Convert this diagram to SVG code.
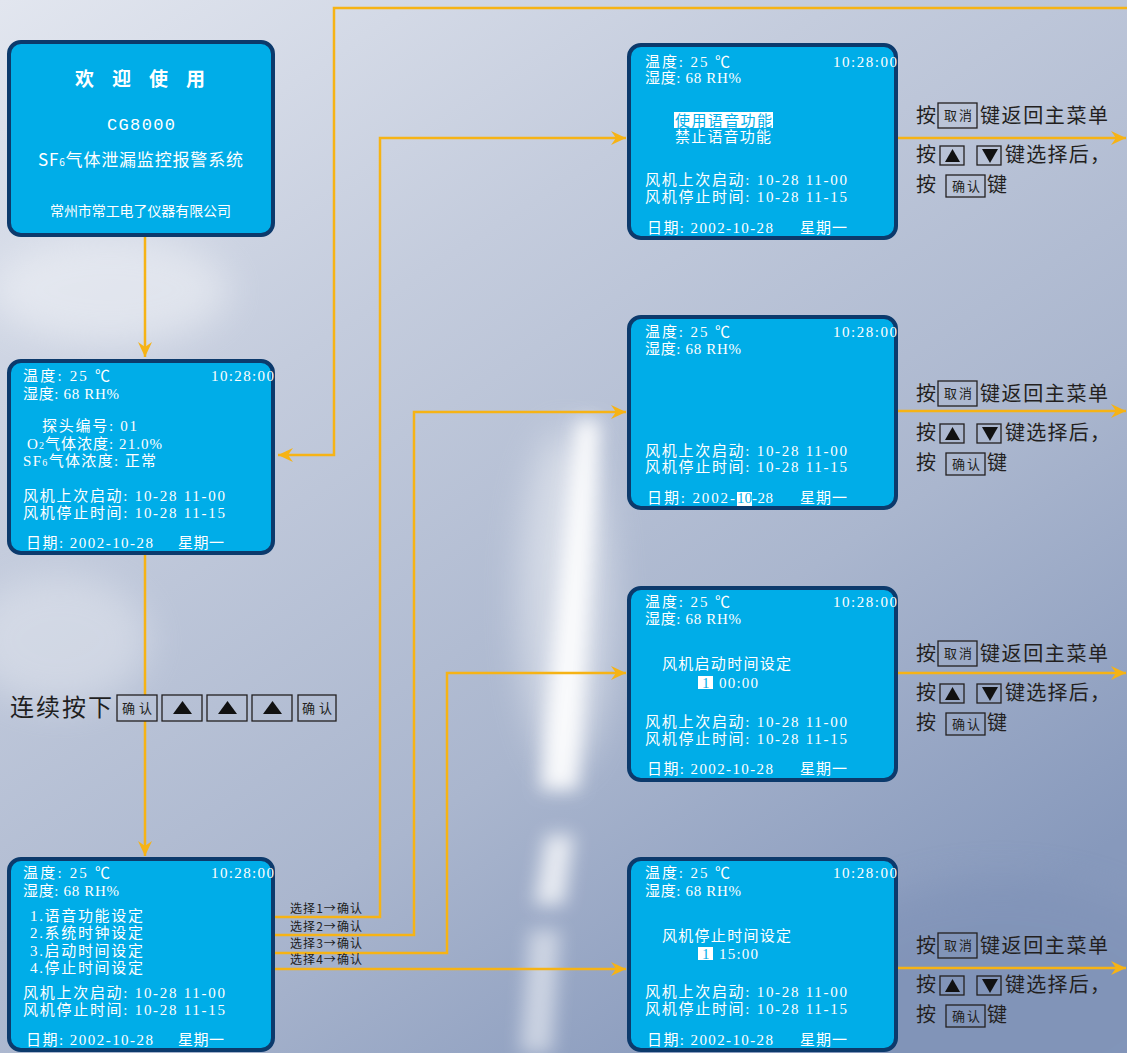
<svg xmlns="http://www.w3.org/2000/svg" width="1127" height="1053" viewBox="0 0 1127 1053">
<defs>
<linearGradient id="bg" x1="0" y1="0" x2="0.7" y2="1">
<stop offset="0" stop-color="#e2e6ef"/>
<stop offset="0.35" stop-color="#c4ccdd"/>
<stop offset="0.7" stop-color="#aab6ce"/>
<stop offset="1" stop-color="#8799bc"/>
</linearGradient>
<filter id="blur" x="-50%" y="-50%" width="200%" height="200%"><feGaussianBlur stdDeviation="18"/></filter>
<filter id="blur2" x="-50%" y="-50%" width="200%" height="200%"><feGaussianBlur stdDeviation="9"/></filter>
<marker id="arr" markerUnits="userSpaceOnUse" markerWidth="16" markerHeight="14" refX="15" refY="7" orient="auto">
<path d="M0,0 L15,7 L0,14 L5,7 Z" fill="#f6b315"/>
</marker>
<style>
.box{fill:#00ade8;stroke:#0c3a6c;stroke-width:4}
.lcd{font-family:"Liberation Serif","Noto Sans CJK SC",serif;font-size:15px;fill:#ffffff}
.hl{fill:#00ade8}
.hlr{fill:#ffffff}
.conn{fill:none;stroke:#f6b315;stroke-width:2.5}
.lbl{font-family:"Noto Sans CJK SC",sans-serif;font-size:12px;fill:#1c1c1c}
.kt{font-family:"Noto Sans CJK SC",sans-serif;font-size:20px;fill:#231f20}
.kb{fill:none;stroke:#231f20;stroke-width:1.3}
.ks{font-family:"Noto Sans CJK SC",sans-serif;font-size:13px;fill:#231f20}
.tri{fill:#111111}
</style>
</defs>

<g id="background">
<rect x="0" y="0" width="1127" height="1053" fill="url(#bg)"/>
<ellipse cx="110" cy="290" rx="120" ry="55" fill="#ffffff" opacity="0.4" filter="url(#blur)"/>
<ellipse cx="60" cy="640" rx="90" ry="65" fill="#ffffff" opacity="0.3" filter="url(#blur)"/>
<ellipse cx="1000" cy="1000" rx="200" ry="120" fill="#7d90b6" opacity="0.5" filter="url(#blur)"/>
<ellipse cx="565" cy="600" rx="45" ry="170" fill="#ffffff" opacity="0.45" filter="url(#blur)"/>
<polygon points="576,420 600,420 578,790 540,790" fill="#ffffff" opacity="0.9" filter="url(#blur2)"/>
<polygon points="546,835 574,835 564,905 534,905" fill="#ffffff" opacity="0.75" filter="url(#blur2)"/>
<polygon points="530,930 560,930 552,1053 520,1053" fill="#ffffff" opacity="0.5" filter="url(#blur2)"/>
</g>

<g id="connectors">
<line class="conn" x1="145" y1="237" x2="145" y2="357" marker-end="url(#arr)"/>
<line class="conn" x1="145" y1="555" x2="145" y2="695"/>
<line class="conn" x1="145" y1="721" x2="145" y2="856" marker-end="url(#arr)"/>
<path class="conn" d="M143,917 H380 V138 H626" marker-end="url(#arr)"/>
<path class="conn" d="M143,935 H414 V412 H626" marker-end="url(#arr)"/>
<path class="conn" d="M143,953 H447 V673 H626" marker-end="url(#arr)"/>
<path class="conn" d="M143,969 H626" marker-end="url(#arr)"/>
<path class="conn" d="M1127,8 H334 V455 H278" marker-end="url(#arr)"/>
<line class="conn" x1="898" y1="138" x2="1126" y2="138" marker-end="url(#arr)"/>
<line class="conn" x1="898" y1="411" x2="1126" y2="411" marker-end="url(#arr)"/>
<line class="conn" x1="898" y1="673" x2="1126" y2="673" marker-end="url(#arr)"/>
<line class="conn" x1="898" y1="968" x2="1126" y2="968" marker-end="url(#arr)"/>
<text class="lbl" x="290" y="913" textLength="72">选择1→确认</text>
<text class="lbl" x="290" y="931" textLength="72">选择2→确认</text>
<text class="lbl" x="290" y="948" textLength="72">选择3→确认</text>
<text class="lbl" x="290" y="964" textLength="72">选择4→确认</text>
</g>

<g id="welcome">
<rect class="box" x="9" y="42" width="264" height="193" rx="12"/>
<text x="75" y="86" textLength="130" font-family="'Noto Sans CJK SC',sans-serif" font-size="19" font-weight="bold" fill="#ffffff">欢迎使用</text>
<text x="107" y="130" textLength="68" font-family="'Liberation Mono',monospace" font-size="17" fill="#ffffff">CG8000</text>
<text x="38" y="166" textLength="205" font-family="'Noto Sans CJK SC',sans-serif" font-size="17" fill="#ffffff">SF<tspan font-size="10">6</tspan>气体泄漏监控报警系统</text>
<text x="50" y="216" textLength="181" font-family="'Noto Sans CJK SC',sans-serif" font-size="14" fill="#ffffff">常州市常工电了仪器有限公司</text>
</g>

<g id="main-screen">
<rect class="box" x="9" y="361" width="264" height="192" rx="12"/>
<text class="lcd" x="23" y="381" textLength="87">温度: 25 ℃</text>
<text class="lcd" x="23" y="399" textLength="96">湿度: 68 RH%</text>
<text class="lcd" x="211" y="381" textLength="63">10:28:00</text>
<text class="lcd" x="42" y="431" textLength="95">探头编号: 01</text>
<text class="lcd" x="27" y="449" textLength="135">O<tspan font-size="10">2</tspan>气体浓度: 21.0%</text>
<text class="lcd" x="23" y="466" textLength="133">SF<tspan font-size="10">6</tspan>气体浓度: 正常</text>
<text class="lcd" x="23" y="501" textLength="202">风机上次启动: 10-28 11-00</text>
<text class="lcd" x="23" y="518" textLength="202">风机停止时间: 10-28 11-15</text>
<text class="lcd" x="26" y="548" textLength="127">日期: 2002-10-28</text>
<text class="lcd" x="178" y="548" textLength="46">星期一</text>
</g>

<g id="key-sequence">
<text x="10" y="716" textLength="102" font-family="'Noto Sans CJK SC',sans-serif" font-size="24" fill="#1f1f1f">连续按下</text>
<rect class="kb" x="117" y="695" width="40" height="26"/>
<text class="ks" x="122" y="713" textLength="30">确认</text>
<rect class="kb" x="162" y="695" width="40" height="26"/>
<polygon class="tri" points="173,714 192,714 182.5,701"/>
<rect class="kb" x="207" y="695" width="40" height="26"/>
<polygon class="tri" points="218,714 237,714 227.5,701"/>
<rect class="kb" x="252" y="695" width="40" height="26"/>
<polygon class="tri" points="263,714 282,714 272.5,701"/>
<rect class="kb" x="298" y="695" width="38" height="26"/>
<text class="ks" x="302" y="713" textLength="30">确认</text>
</g>

<g id="menu-screen">
<rect class="box" x="9" y="859" width="264" height="191" rx="12"/>
<text class="lcd" x="23" y="878" textLength="87">温度: 25 ℃</text>
<text class="lcd" x="23" y="896" textLength="96">湿度: 68 RH%</text>
<text class="lcd" x="211" y="878" textLength="63">10:28:00</text>
<text class="lcd" x="30" y="921" textLength="113">1.语音功能设定</text>
<text class="lcd" x="30" y="938" textLength="113">2.系统时钟设定</text>
<text class="lcd" x="30" y="956" textLength="113">3.启动时间设定</text>
<text class="lcd" x="30" y="973" textLength="113">4.停止时间设定</text>
<text class="lcd" x="23" y="998" textLength="202">风机上次启动: 10-28 11-00</text>
<text class="lcd" x="23" y="1015" textLength="202">风机停止时间: 10-28 11-15</text>
<text class="lcd" x="26" y="1045" textLength="127">日期: 2002-10-28</text>
<text class="lcd" x="178" y="1045" textLength="46">星期一</text>
</g>

<g id="voice-screen">
<rect class="box" x="629" y="45" width="267" height="193" rx="12"/>
<text class="lcd" x="645" y="67" textLength="85">温度: 25 ℃</text>
<text class="lcd" x="645" y="83" textLength="96">湿度: 68 RH%</text>
<text class="lcd" x="833" y="67" textLength="64">10:28:00</text>
<rect class="hlr" x="674" y="112" width="99" height="16"/>
<text class="lcd hl" x="675" y="126" textLength="97">使用语音功能</text>
<text class="lcd" x="675" y="142" textLength="96">禁止语音功能</text>
<text class="lcd" x="645" y="185" textLength="202">风机上次启动: 10-28 11-00</text>
<text class="lcd" x="645" y="202" textLength="202">风机停止时间: 10-28 11-15</text>
<text class="lcd" x="647" y="233" textLength="126">日期: 2002-10-28</text>
<text class="lcd" x="800" y="233" textLength="47">星期一</text>
</g>

<g id="clock-screen">
<rect class="box" x="629" y="317" width="267" height="191" rx="12"/>
<text class="lcd" x="645" y="337" textLength="85">温度: 25 ℃</text>
<text class="lcd" x="645" y="354" textLength="96">湿度: 68 RH%</text>
<text class="lcd" x="833" y="337" textLength="64">10:28:00</text>
<text class="lcd" x="645" y="456" textLength="202">风机上次启动: 10-28 11-00</text>
<text class="lcd" x="645" y="472" textLength="202">风机停止时间: 10-28 11-15</text>
<text class="lcd" x="647" y="503" textLength="88">日期: 2002-</text>
<rect class="hlr" x="737" y="492" width="15" height="14"/>
<text class="lcd hl" x="737" y="503" textLength="15">10</text>
<text class="lcd" x="752" y="503" textLength="21">-28</text>
<text class="lcd" x="800" y="503" textLength="47">星期一</text>
</g>

<g id="start-screen">
<rect class="box" x="629" y="588" width="267" height="192" rx="12"/>
<text class="lcd" x="645" y="607" textLength="85">温度: 25 ℃</text>
<text class="lcd" x="645" y="624" textLength="96">湿度: 68 RH%</text>
<text class="lcd" x="833" y="607" textLength="64">10:28:00</text>
<text class="lcd" x="662" y="669" textLength="129">风机启动时间设定</text>
<rect class="hlr" x="698" y="676" width="15" height="13"/>
<text class="lcd hl" x="702" y="688">1</text>
<text class="lcd" x="719" y="688" textLength="39">00:00</text>
<text class="lcd" x="645" y="727" textLength="202">风机上次启动: 10-28 11-00</text>
<text class="lcd" x="645" y="744" textLength="202">风机停止时间: 10-28 11-15</text>
<text class="lcd" x="647" y="774" textLength="126">日期: 2002-10-28</text>
<text class="lcd" x="800" y="774" textLength="47">星期一</text>
</g>

<g id="stop-screen">
<rect class="box" x="629" y="859" width="267" height="191" rx="12"/>
<text class="lcd" x="645" y="878" textLength="85">温度: 25 ℃</text>
<text class="lcd" x="645" y="896" textLength="96">湿度: 68 RH%</text>
<text class="lcd" x="833" y="878" textLength="64">10:28:00</text>
<text class="lcd" x="662" y="941" textLength="129">风机停止时间设定</text>
<rect class="hlr" x="698" y="947" width="15" height="13"/>
<text class="lcd hl" x="702" y="959">1</text>
<text class="lcd" x="719" y="959" textLength="39">15:00</text>
<text class="lcd" x="645" y="997" textLength="202">风机上次启动: 10-28 11-00</text>
<text class="lcd" x="645" y="1014" textLength="202">风机停止时间: 10-28 11-15</text>
<text class="lcd" x="647" y="1045" textLength="126">日期: 2002-10-28</text>
<text class="lcd" x="800" y="1045" textLength="47">星期一</text>
</g>

<g id="keys-1">
<text class="kt" x="916" y="123">按</text>
<rect class="kb" x="938" y="103" width="39" height="25"/>
<text class="ks" x="944" y="120" textLength="28">取消</text>
<text class="kt" x="980" y="123" textLength="128">键返回主菜单</text>
<text class="kt" x="916" y="162">按</text>
<rect class="kb" x="940" y="146" width="24" height="19"/>
<polygon class="tri" points="945,162 960,162 952.5,149"/>
<rect class="kb" x="977" y="146" width="24" height="19"/>
<polygon class="tri" points="982,149 998,149 990,163"/>
<text class="kt" x="1005" y="162" textLength="105">键选择后，</text>
<text class="kt" x="916" y="192">按</text>
<rect class="kb" x="946" y="175" width="39" height="22"/>
<text class="ks" x="952" y="191" textLength="28">确认</text>
<text class="kt" x="987" y="192">键</text>
</g>

<g id="keys-2" transform="translate(0,278)">
<text class="kt" x="916" y="123">按</text>
<rect class="kb" x="938" y="103" width="39" height="25"/>
<text class="ks" x="944" y="120" textLength="28">取消</text>
<text class="kt" x="980" y="123" textLength="128">键返回主菜单</text>
<text class="kt" x="916" y="162">按</text>
<rect class="kb" x="940" y="146" width="24" height="19"/>
<polygon class="tri" points="945,162 960,162 952.5,149"/>
<rect class="kb" x="977" y="146" width="24" height="19"/>
<polygon class="tri" points="982,149 998,149 990,163"/>
<text class="kt" x="1005" y="162" textLength="105">键选择后，</text>
<text class="kt" x="916" y="192">按</text>
<rect class="kb" x="946" y="175" width="39" height="22"/>
<text class="ks" x="952" y="191" textLength="28">确认</text>
<text class="kt" x="987" y="192">键</text>
</g>

<g id="keys-3" transform="translate(0,538)">
<text class="kt" x="916" y="123">按</text>
<rect class="kb" x="938" y="103" width="39" height="25"/>
<text class="ks" x="944" y="120" textLength="28">取消</text>
<text class="kt" x="980" y="123" textLength="128">键返回主菜单</text>
<text class="kt" x="916" y="162">按</text>
<rect class="kb" x="940" y="146" width="24" height="19"/>
<polygon class="tri" points="945,162 960,162 952.5,149"/>
<rect class="kb" x="977" y="146" width="24" height="19"/>
<polygon class="tri" points="982,149 998,149 990,163"/>
<text class="kt" x="1005" y="162" textLength="105">键选择后，</text>
<text class="kt" x="916" y="192">按</text>
<rect class="kb" x="946" y="175" width="39" height="22"/>
<text class="ks" x="952" y="191" textLength="28">确认</text>
<text class="kt" x="987" y="192">键</text>
</g>

<g id="keys-4" transform="translate(0,830)">
<text class="kt" x="916" y="123">按</text>
<rect class="kb" x="938" y="103" width="39" height="25"/>
<text class="ks" x="944" y="120" textLength="28">取消</text>
<text class="kt" x="980" y="123" textLength="128">键返回主菜单</text>
<text class="kt" x="916" y="162">按</text>
<rect class="kb" x="940" y="146" width="24" height="19"/>
<polygon class="tri" points="945,162 960,162 952.5,149"/>
<rect class="kb" x="977" y="146" width="24" height="19"/>
<polygon class="tri" points="982,149 998,149 990,163"/>
<text class="kt" x="1005" y="162" textLength="105">键选择后，</text>
<text class="kt" x="916" y="192">按</text>
<rect class="kb" x="946" y="175" width="39" height="22"/>
<text class="ks" x="952" y="191" textLength="28">确认</text>
<text class="kt" x="987" y="192">键</text>
</g>
</svg>
